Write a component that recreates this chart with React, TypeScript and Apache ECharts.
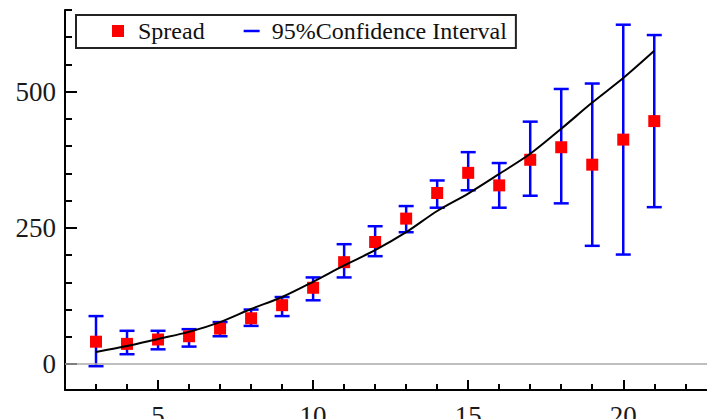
import React, { useEffect, useRef } from "react";
import * as echarts from "echarts";

const xs = [3, 4, 5, 6, 7, 8, 9, 10, 11, 12, 13, 14, 15, 16, 17, 18, 19, 20, 21];
const spread = [41, 37, 45, 51, 65, 84, 108, 140, 187, 224, 267, 314, 351, 328, 375, 398, 366, 412, 446];
const ciLow = [-4, 18, 27, 32, 51, 70, 88, 117, 159, 198, 242, 287, 319, 287, 309, 295, 217, 201, 288];
const ciHigh = [88, 61, 61, 64, 77, 100, 123, 159, 220, 253, 290, 337, 389, 369, 445, 505, 515, 623, 604];
const fitValues = [22, 33, 46, 59, 77, 101, 123, 151, 181, 209, 242, 281, 313, 349, 386, 432, 480, 525, 575];

const xMajorTicks = [5, 10, 15, 20];
const xMinorTicks = [3, 4, 6, 7, 8, 9, 11, 12, 13, 14, 16, 17, 18, 19, 21, 22];
const yMajorTicks = [0, 250, 500];
const yMinorTicks = [50, 100, 150, 200, 300, 350, 400, 450, 550, 600, 650];

const FONT = "'Liberation Serif', 'Times New Roman', serif";

export default function App() {
  const ref = useRef<HTMLDivElement>(null);
  useEffect(() => {
    if (!ref.current) return;
    const chart = echarts.init(ref.current, null, { renderer: "svg" });
    const tickStyle = { color: "#000", width: 2 };
    const labelStyle = { fontSize: 27, fontFamily: FONT, color: "#1a1a1a" };
    chart.setOption({
      animation: false,
      backgroundColor: "#fff",
      grid: { left: 65, right: 0, top: 10, bottom: 29, containLabel: false, outerBoundsMode: "none" },
      legend: {
        show: true,
        left: 76,
        top: 15,
        orient: "horizontal",
        padding: [4, 9, 5, 36],
        borderColor: "#222",
        borderWidth: 2,
        backgroundColor: "#fff",
        itemWidth: 16,
        itemHeight: 12,
        itemGap: 39,
        textStyle: { fontSize: 24, fontFamily: FONT, color: "#111", padding: [0, 0, 0, 7] },
        data: [
          { name: "Spread", icon: "path://M0 0h12v12H0z" },
          { name: "95%Confidence Interval", icon: "path://M0 5h16v2.5H0z" },
        ],
      },
      xAxis: [
        {
          type: "value",
          min: 2,
          max: 22.7,
          position: "bottom",
          axisLine: { show: true, onZero: false, lineStyle: tickStyle },
          axisTick: { show: true, inside: true, length: 10, customValues: xMajorTicks, lineStyle: tickStyle },
          axisLabel: { show: true, customValues: xMajorTicks, margin: 12, ...labelStyle },
          splitLine: { show: false },
        },
        {
          type: "value",
          min: 2,
          max: 22.7,
          position: "bottom",
          axisLine: { show: false, onZero: false },
          axisTick: { show: true, inside: true, length: 6, customValues: xMinorTicks, lineStyle: tickStyle },
          axisLabel: { show: false },
          splitLine: { show: false },
        },
      ],
      yAxis: [
        {
          type: "value",
          min: -47.7,
          max: 650,
          position: "left",
          axisLine: { show: true, onZero: false, lineStyle: tickStyle },
          axisTick: { show: true, inside: true, length: 12, customValues: yMajorTicks, lineStyle: tickStyle },
          axisLabel: { show: true, customValues: yMajorTicks, margin: 9, ...labelStyle },
          splitLine: { show: false },
        },
        {
          type: "value",
          min: -47.7,
          max: 650,
          position: "left",
          axisLine: { show: false, onZero: false },
          axisTick: { show: true, inside: true, length: 7, customValues: yMinorTicks, lineStyle: tickStyle },
          axisLabel: { show: false },
          splitLine: { show: false },
        },
      ],
      series: [
        {
          name: "95%Confidence Interval",
          type: "custom",
          xAxisIndex: 0,
          yAxisIndex: 0,
          z: 2,
          itemStyle: { color: "#0000ff" },
          encode: { x: 0, y: [1, 2] },
          data: xs.map((x, i) => [x, ciLow[i], ciHigh[i]]),
          renderItem: (params: any, api: any) => {
            const x = api.value(0);
            const pLo = api.coord([x, api.value(1)]);
            const pHi = api.coord([x, api.value(2)]);
            const hw = 7.5;
            const style = { stroke: "#0000ff", lineWidth: 2.5 };
            return {
              type: "group",
              children: [
                { type: "line", shape: { x1: pLo[0], y1: pLo[1], x2: pHi[0], y2: pHi[1] }, style },
                { type: "line", shape: { x1: pHi[0] - hw, y1: pHi[1], x2: pHi[0] + hw, y2: pHi[1] }, style },
                { type: "line", shape: { x1: pLo[0] - hw, y1: pLo[1], x2: pLo[0] + hw, y2: pLo[1] }, style },
              ],
            };
          },
        },
        {
          name: "Spread",
          type: "scatter",
          xAxisIndex: 0,
          yAxisIndex: 0,
          z: 3,
          symbol: "rect",
          symbolSize: 12,
          itemStyle: { color: "#ff0000", opacity: 1 },
          data: xs.map((x, i) => [x, spread[i]]),
          markLine: {
            silent: true,
            symbol: ["none", "none"],
            label: { show: false },
            lineStyle: { color: "#a8a8a8", width: 1.5, type: "solid" },
            data: [{ yAxis: 0 }],
          },
        },
        {
          name: "Fit",
          type: "line",
          xAxisIndex: 0,
          yAxisIndex: 0,
          z: 4,
          smooth: 0.3,
          showSymbol: false,
          symbol: "none",
          lineStyle: { color: "#000", width: 2 },
          data: xs.map((x, i) => [x, fitValues[i]]),
        },
      ],
    });
    return () => chart.dispose();
  }, []);
  return (
    <div
      ref={ref}
      style={{ position: "fixed", left: 0, top: 0, width: 707, height: 419, background: "#fff" }}
    />
  );
}
